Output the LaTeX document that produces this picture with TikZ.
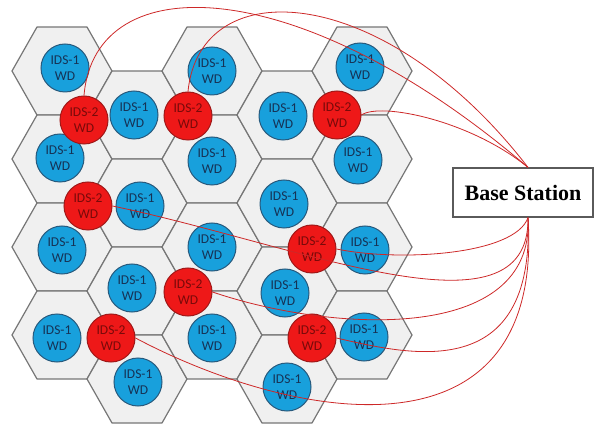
\documentclass[tikz,border=0pt]{standalone}
\usepackage{fontspec}
\usepackage{tikz}
\usetikzlibrary{positioning}

\newfontfamily\wdfamily{Carlito}
\newfontfamily\basefamily{Liberation Serif}
\newcommand{\wdfont}{\wdfamily\fontsize{13.5}{16.5}\selectfont}
\newcommand{\basefont}{\basefamily\bfseries\fontsize{22}{26}\selectfont}

\definecolor{hexgray}{RGB}{118,118,118}
\definecolor{hexfill}{RGB}{240,240,240}
\definecolor{idsblue}{RGB}{24,160,220}
\definecolor{idsblueline}{RGB}{40,90,125}
\definecolor{idsbluetext}{RGB}{22,50,85}
\definecolor{idsred}{RGB}{238,24,24}
\definecolor{idsredline}{RGB}{160,25,25}
\definecolor{idsredtext}{RGB}{120,10,10}
\definecolor{boxgray}{RGB}{90,90,90}
\definecolor{linkred}{RGB}{205,40,40}

\begin{document}
\begin{tikzpicture}[
        x=1pt, y=-1pt,
        hexcell/.style={draw=hexgray, line width=1.2pt, fill=hexfill, line join=round},
        wd/.style={circle, draw, line width=1pt, minimum size=48pt, inner sep=0pt, align=center, font=\wdfont},
        idsone/.style={wd, fill=idsblue, draw=idsblueline, text=idsbluetext},
        idstwo/.style={wd, fill=idsred, draw=idsredline, text=idsredtext},
        basebox/.style={rectangle, draw=boxgray, line width=1.2pt, fill=white, minimum width=140pt, minimum height=49pt, inner sep=0pt, font=\basefont},
        link/.style={draw=linkred, line width=0.8pt}
    ]
    \useasboundingbox (0,0) rectangle (594,430);

    % Hexagonal cells
    \foreach \c in {0,...,4}
        \foreach \r in {0,...,3} {
            \pgfmathsetmacro{\hx}{62+75*\c}
            \pgfmathsetmacro{\hy}{71+44*mod(\c,2)+88*\r}
            \draw[hexcell] (\hx,\hy) ++(-50,0) -- ++(25,-44) -- ++(50,0) -- ++(25,44) -- ++(-25,44) -- ++(-50,0) -- cycle;
        }

    % IDS-1 devices
    \foreach \bx/\by [count=\i] in {65/68, 134/115, 212/71, 283/116, 360/67,
                                    60/158, 140/206, 212/161, 284/204, 358/160,
                                    62/250, 212/247, 365/250, 132/288, 285/293,
                                    57/338, 212/338, 364/337, 138/382, 287/387}
        \node[idsone] (b\i) at (\bx,\by) {IDS-1\\WD};

    % IDS-2 devices
    \node[idstwo] (r1) at (84,120) {IDS-2\\WD};
    \node[idstwo] (r2) at (188,116) {IDS-2\\WD};
    \node[idstwo] (r3) at (337,115) {IDS-2\\WD};
    \node[idstwo] (r4) at (88,206) {IDS-2\\WD};
    \node[idstwo] (r5) at (312,249) {IDS-2\\WD};
    \node[idstwo] (r6) at (188,292) {IDS-2\\WD};
    \node[idstwo] (r7) at (312,338) {IDS-2\\WD};
    \node[idstwo] (r8) at (111,338) {IDS-2\\WD};

    % Base station
    \node[basebox] (bs) at (523,192.5) {Base Station};

    % Links to the base station
    \draw[link] (r1.north) .. controls (95,-35) and (300,-28) .. ([xshift=5pt]bs.north);
    \draw[link] (r2.north) .. controls (200,-30) and (385,-18) .. ([xshift=5pt]bs.north);
    \draw[link] (r3.east) .. controls (380,102) and (470,120) .. ([xshift=5pt]bs.north);
    \draw[link] (r4.east) .. controls (300,245) and (530,345) .. ([xshift=5pt]bs.south);
    \draw[link] (r5.east) .. controls (400,262) and (515,255) .. ([xshift=5pt]bs.south);
    \draw[link] (r6.east) .. controls (330,332) and (535,345) .. ([xshift=5pt]bs.south);
    \draw[link] (r7.east) .. controls (410,355) and (535,385) .. ([xshift=5pt]bs.south);
    \draw[link] (r8.east) .. controls (290,420) and (545,470) .. ([xshift=5pt]bs.south);

\end{tikzpicture}
\end{document}
